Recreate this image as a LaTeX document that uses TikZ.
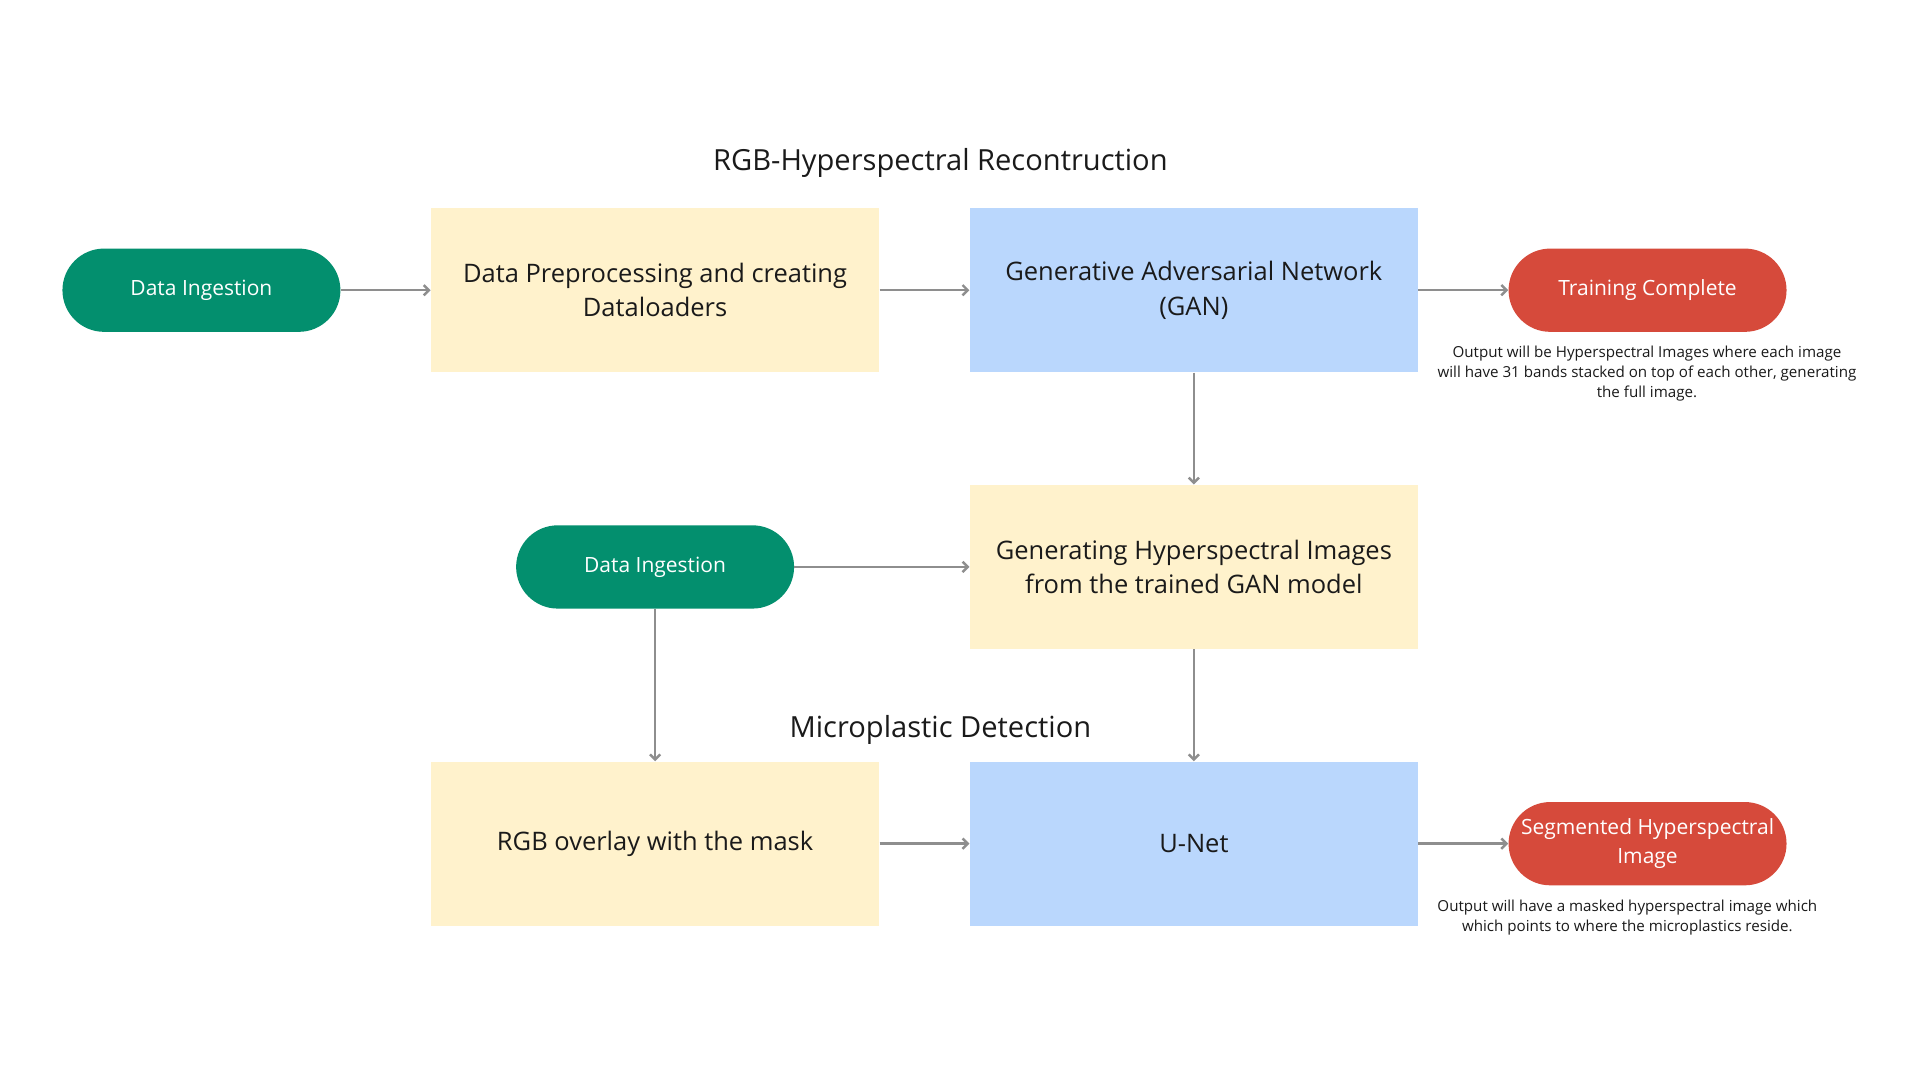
\documentclass[tikz,border=0pt]{standalone}
\usepackage{fontspec}
\setmainfont{Open Sans}
\usepackage{xcolor}
\usepackage{tikz}
\usetikzlibrary{arrows.meta}

\definecolor{ingest}{HTML}{038F6E}
\definecolor{stage}{HTML}{FFF2CC}
\definecolor{model}{HTML}{BAD7FD}
\definecolor{done}{HTML}{D64A3B}
\definecolor{link}{HTML}{8E8E8E}
\definecolor{ink}{HTML}{1A1A1A}

\begin{document}
\begin{tikzpicture}[x=0.25mm,y=-0.25mm,
    pill/.style={fill=#1,text=white,minimum width=56.75mm,minimum height=17mm,
                 rounded corners=8.5mm,inner sep=0pt,align=center,
                 font=\fontsize{12.2}{17}\selectfont},
    box/.style={fill=#1,text=ink,minimum width=91.5mm,minimum height=33.5mm,
                inner sep=0pt,align=center,font=\fontsize{14.8}{20}\selectfont},
    heading/.style={text=ink,font=\fontsize{16.9}{18}\selectfont},
    note/.style={text=ink,align=center,font=\fontsize{8.8}{11.7}\selectfont}]
\fill[white] (0,0) rectangle (1568,882);
\useasboundingbox (0,0) rectangle (1568,882);

    % reconstruction row
    \node[heading] (recon) at (768,133) {RGB-Hyperspectral Recontruction};
    \node[pill=ingest] (ingestA) at (164.5,237) {Data Ingestion};
    \node[box=stage] (prep) at (535,237) {Data Preprocessing and creating\\Dataloaders};
    \node[box=model] (gan) at (975,237) {Generative Adversarial Network\\(GAN)};
    \node[pill=done] (trained) at (1345.5,237) {Training Complete};
    \node[note] (noteA) at (1345,305) {Output will be Hyperspectral Images where each image\\
        will have 31 bands stacked on top of each other, generating\\the full image.};

    % generation row
    \node[pill=ingest] (ingestB) at (535,463) {Data Ingestion};
    \node[box=stage] (gen) at (975,463) {Generating Hyperspectral Images\\from the trained GAN model};

    % detection row
    \node[heading] (detect) at (768,596) {Microplastic Detection};
    \node[box=stage] (overlay) at (535,689) {RGB overlay with the mask};
    \node[box=model] (unet) at (975,689) {U-Net};
    \node[pill=done] (segmented) at (1345.5,689) {Segmented Hyperspectral\\Image};
    \node[note] (noteB) at (1329,749) {Output will have a masked hyperspectral image which\\
        which points to where the microplastics reside.};

\begin{scope}[>={Straight Barb[length=3pt,width=6pt]},draw=link,line width=0.5mm]
    \draw[->] (ingestA) -- (prep);
    \draw[->] (prep) -- (gan);
    \draw[->] (gan) -- (trained);
    \draw[->] (gan) -- (gen);
    \draw[->] (ingestB) -- (gen);
    \draw[->] (ingestB) -- (overlay);
    \draw[->] (gen) -- (unet);
    \draw[->] (overlay) -- (unet);
    \draw[->] (unet) -- (segmented);
\end{scope}
\end{tikzpicture}
\end{document}
